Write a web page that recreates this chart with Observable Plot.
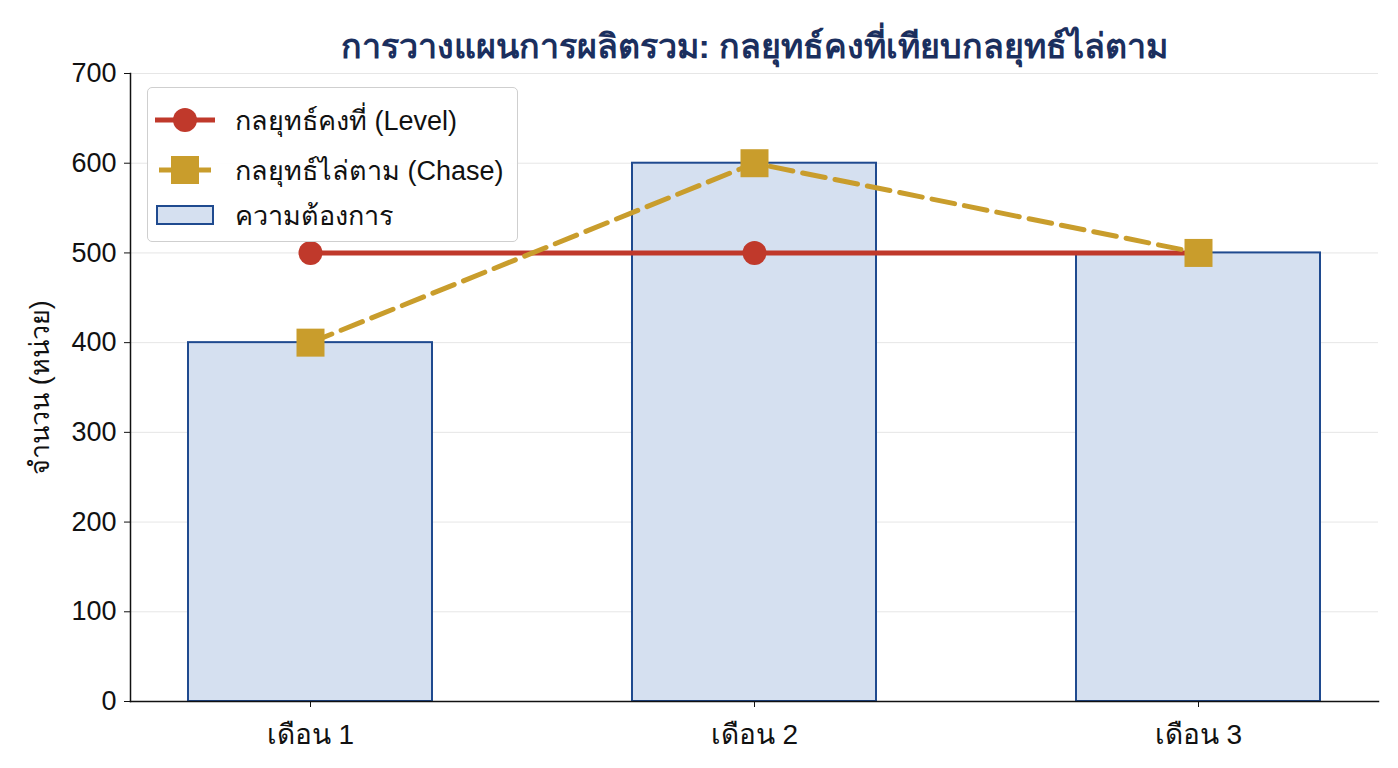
<!DOCTYPE html>
<html>
<head>
<meta charset="utf-8">
<script src="https://cdn.jsdelivr.net/npm/d3@7"></script>
<script src="https://cdn.jsdelivr.net/npm/@observablehq/plot@0.6"></script>
<style>
  html, body { margin: 0; padding: 0; background: #fff; }
  body { font-family: "Liberation Sans", Arial, "Noto Sans", sans-serif; }
  #wrap { position: relative; width: 1398px; height: 768px; }
  #legend {
    position: absolute; left: 147px; top: 87px; width: 371px; height: 155px;
    border: 1.5px solid #cfcfcf; border-radius: 5px; background: rgba(255,255,255,0.92);
    box-sizing: border-box;
  }
  .row { position: absolute; left: 0; height: 40px; display: flex; align-items: center; }
  .row svg { margin-left: 5px; }
  .row span { margin-left: 18px; font-size: 27px; color: #111; white-space: nowrap; }
</style>
</head>
<body>
<div id="wrap"></div>
<script>
const months = ["เดือน 1", "เดือน 2", "เดือน 3"];
const demand = [400, 600, 500];
const levelPlan = [500, 500, 500];
const chasePlan = [400, 600, 500];
const yTicks = [0, 100, 200, 300, 400, 500, 600, 700];
const title = "การวางแผนการผลิตรวม: กลยุทธ์คงที่เทียบกลยุทธ์ไล่ตาม";
const yLabel = "จำนวน (หน่วย)";
const legendLabels = ["กลยุทธ์คงที่ (Level)", "กลยุทธ์ไล่ตาม (Chase)", "ความต้องการ"];

const colors = { level: "#c0392b", chase: "#c99d2c", barFill: "#d5e0f0", barStroke: "#1f4a8f" };

const data = months.map((m, i) => ({ month: m, demand: demand[i], level: levelPlan[i], chase: chasePlan[i] }));

const chart = Plot.plot({
  width: 1398,
  height: 768,
  marginLeft: 130,
  marginRight: 20,
  marginTop: 73,
  marginBottom: 67,
  style: { fontFamily: "'Liberation Sans', Arial, 'Noto Sans', sans-serif", color: "#111", background: "white" },
  x: { domain: months, paddingInner: 0.45, paddingOuter: 0.129, label: null },
  y: { domain: [0, 700], label: null },
  marks: [
    Plot.gridY(yTicks, { stroke: "#e6e6e6", strokeOpacity: 1, strokeWidth: 1 }),
    Plot.barY(data, { x: "month", y: "demand", fill: colors.barFill, stroke: colors.barStroke, strokeWidth: 2 }),
    Plot.frame({ anchor: "left", stroke: "#111", strokeWidth: 1.5 }),
    Plot.frame({ anchor: "bottom", stroke: "#111", strokeWidth: 1.5 }),
    Plot.axisY({ ticks: yTicks, tickSize: 6, tickPadding: 8, fontSize: 27, label: null }),
    Plot.axisX({ tickSize: 6, tickPadding: 17, fontSize: 28, label: null }),
    Plot.text([yLabel], { frameAnchor: "left", dx: -90, rotate: -90, textAnchor: "middle", fontSize: 27, fill: "#111" }),
    Plot.lineY(data, { x: "month", y: "level", stroke: colors.level, strokeWidth: 5 }),
    Plot.dot(data, { x: "month", y: "level", r: 12, fill: colors.level, stroke: null }),
    Plot.lineY(data, { x: "month", y: "chase", stroke: colors.chase, strokeWidth: 5, strokeDasharray: "23,10" }),
    Plot.dot(data, { x: "month", y: "chase", symbol: "square", r: 15.8, fill: colors.chase, stroke: null }),
    Plot.text([title], { frameAnchor: "top", dy: -40, fontSize: 34, fontWeight: "bold", fill: "#1b2f5e" })
  ]
});

const wrap = document.getElementById("wrap");
wrap.appendChild(chart);

// legend
const legend = document.createElement("div");
legend.id = "legend";
const swatches = [
  `<svg width="64" height="30"><line x1="2" y1="15" x2="62" y2="15" stroke="${colors.level}" stroke-width="5"/><circle cx="32" cy="15" r="12" fill="${colors.level}"/></svg>`,
  `<svg width="64" height="30"><line x1="6" y1="15" x2="58" y2="15" stroke="${colors.chase}" stroke-width="5"/><rect x="18" y="1" width="28" height="28" fill="${colors.chase}"/></svg>`,
  `<svg width="64" height="30"><rect x="4" y="6" width="56" height="18" fill="${colors.barFill}" stroke="${colors.barStroke}" stroke-width="2"/></svg>`
];
const tops = [12, 62, 107];
legendLabels.forEach((lab, i) => {
  const row = document.createElement("div");
  row.className = "row";
  row.style.top = (tops[i]) + "px";
  row.innerHTML = swatches[i] + `<span>${lab}</span>`;
  legend.appendChild(row);
});
wrap.appendChild(legend);
</script>
</body>
</html>
